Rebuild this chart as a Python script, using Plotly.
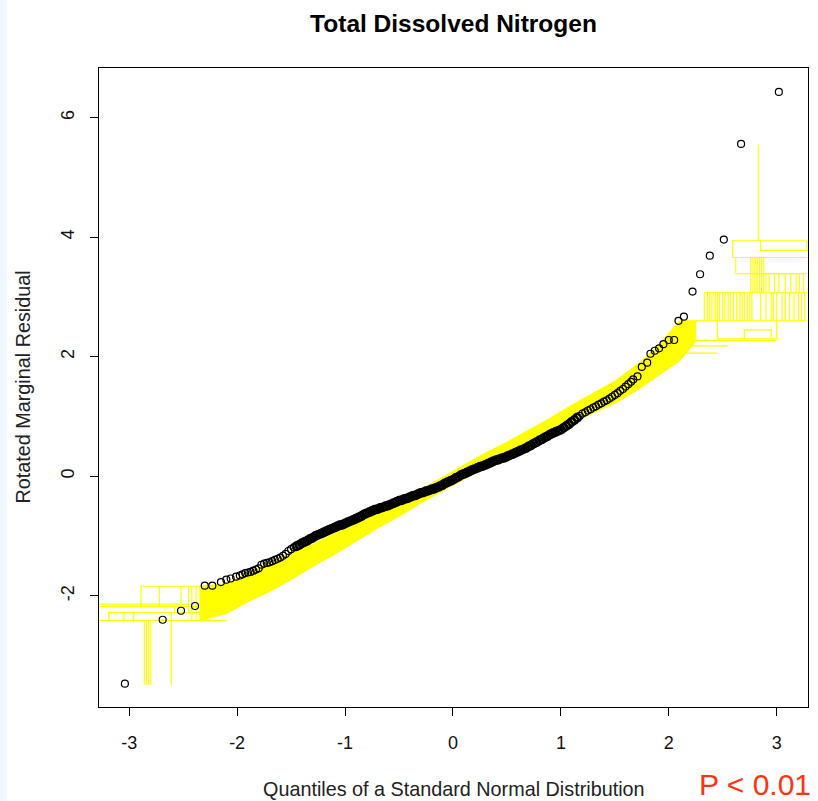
import plotly.graph_objects as go

# ---- observed Q-Q points (theoretical quantile, rotated marginal residual) ----
qx_lower = [-3.04, -2.69, -2.52, -2.39, -2.30, -2.23, -2.15, -2.10, -2.06, -2.01]
qy_lower = [-3.47, -2.40, -2.25, -2.17, -1.83, -1.83, -1.77, -1.73, -1.71, -1.68]

qx_mid = [-1.975, -1.950, -1.925, -1.900, -1.875, -1.850, -1.825, -1.800, -1.775, -1.750,
          -1.725, -1.700, -1.675, -1.650, -1.625, -1.600, -1.575, -1.550, -1.525, -1.500,
          -1.475, -1.450, -1.425, -1.400, -1.375, -1.350, -1.325, -1.300, -1.275, -1.250,
          -1.225, -1.200, -1.175, -1.150, -1.125, -1.100, -1.075, -1.050, -1.025, -1.000,
          -0.975, -0.950, -0.925, -0.900, -0.875, -0.850, -0.825, -0.800, -0.775, -0.750,
          -0.725, -0.700, -0.675, -0.650, -0.625, -0.600, -0.575, -0.550, -0.525, -0.500,
          -0.475, -0.450, -0.425, -0.400, -0.375, -0.350, -0.325, -0.300, -0.275, -0.250,
          -0.225, -0.200, -0.175, -0.150, -0.125, -0.100, -0.075, -0.050, -0.025, 0.000,
          0.025, 0.050, 0.075, 0.100, 0.125, 0.150, 0.175, 0.200, 0.225, 0.250,
          0.275, 0.300, 0.325, 0.350, 0.375, 0.400, 0.425, 0.450, 0.475, 0.500,
          0.525, 0.550, 0.575, 0.600, 0.625, 0.650, 0.675, 0.700, 0.725, 0.750,
          0.775, 0.800, 0.825, 0.850, 0.875, 0.900, 0.925, 0.950, 0.975, 1.000,
          1.025, 1.050, 1.075, 1.100, 1.125, 1.150, 1.175, 1.200, 1.225, 1.250,
          1.275, 1.300, 1.325, 1.350, 1.375, 1.400, 1.425, 1.450, 1.475, 1.500,
          1.525, 1.550, 1.575, 1.600, 1.625, 1.650]
qy_mid = [-1.66, -1.64, -1.62, -1.61, -1.60, -1.58, -1.56, -1.54, -1.48, -1.46,
          -1.45, -1.44, -1.42, -1.40, -1.38, -1.36, -1.33, -1.30, -1.25, -1.22,
          -1.19, -1.17, -1.15, -1.12, -1.10, -1.08, -1.05, -1.03, -1.00, -0.98,
          -0.96, -0.94, -0.92, -0.90, -0.88, -0.86, -0.84, -0.82, -0.81, -0.79,
          -0.77, -0.75, -0.73, -0.71, -0.69, -0.67, -0.64, -0.62, -0.60, -0.58,
          -0.56, -0.55, -0.53, -0.52, -0.50, -0.49, -0.47, -0.45, -0.43, -0.41,
          -0.40, -0.38, -0.37, -0.35, -0.33, -0.32, -0.30, -0.28, -0.27, -0.25,
          -0.24, -0.22, -0.21, -0.19, -0.17, -0.15, -0.12, -0.10, -0.08, -0.06,
          -0.03, -0.01, 0.02, 0.04, 0.06, 0.08, 0.10, 0.12, 0.14, 0.16,
          0.17, 0.19, 0.21, 0.23, 0.25, 0.27, 0.28, 0.30, 0.31, 0.33,
          0.35, 0.37, 0.39, 0.41, 0.43, 0.45, 0.47, 0.50, 0.52, 0.55,
          0.57, 0.60, 0.62, 0.65, 0.67, 0.70, 0.72, 0.74, 0.76, 0.78,
          0.81, 0.84, 0.87, 0.91, 0.94, 0.98, 1.01, 1.05, 1.07, 1.10,
          1.12, 1.15, 1.17, 1.20, 1.22, 1.25, 1.27, 1.30, 1.33, 1.36,
          1.39, 1.43, 1.46, 1.50, 1.54, 1.58]

qx_upper = [1.67, 1.71, 1.75, 1.80, 1.83, 1.87, 1.91, 1.95, 2.00, 2.05,
            2.09, 2.14, 2.22, 2.29, 2.38, 2.51, 2.67, 3.02]
qy_upper = [1.62, 1.67, 1.83, 1.90, 2.05, 2.10, 2.14, 2.21, 2.28, 2.28,
            2.60, 2.67, 3.09, 3.38, 3.69, 3.96, 5.56, 6.43]

# ---- simulated envelope: dense central band (lower / upper edge) ----
band_x = [-2.35, -2.10, -1.90, -1.70, -1.50, -1.30, -1.10, -0.90, -0.70, -0.50, -0.30, -0.10,
          0.10, 0.30, 0.50, 0.70, 0.90, 1.10, 1.30, 1.50, 1.70, 1.90, 2.10, 2.25]
band_lower = [-2.41, -2.30, -2.10, -1.93, -1.73, -1.51, -1.31, -1.09, -0.87, -0.67, -0.45, -0.25,
              -0.05, 0.15, 0.34, 0.52, 0.70, 0.89, 1.06, 1.22, 1.43, 1.68, 1.93, 2.25]
band_upper = [-1.84, -1.80, -1.63, -1.43, -1.29, -1.14, -0.96, -0.79, -0.60, -0.42, -0.22, -0.02,
              0.18, 0.39, 0.57, 0.77, 0.97, 1.19, 1.39, 1.59, 1.86, 2.18, 2.60, 2.60]

# ---- simulated envelope: step-line pieces in the tails (None separates pieces) ----
tail_x = [-2.86, -2.86, None, -2.84, -2.84, None, -2.82, -2.82, None, -2.80, -2.80, None,
          -2.61, -2.61, None, -3.28, -2.10, None, -3.19, -3.19, -2.30, None, -2.61, -2.61, None,
          -3.28, -1.98, None, -3.28, -2.45, None, -2.89, -2.89, -1.98, None,
          -2.72, -2.72, None, -2.52, -2.52, None, -2.45, -2.45, None, -2.38, -2.38, None,
          -3.05, -3.05, None, -2.96, -2.96, None, -2.42, -2.42, None, -2.58, -2.58, None,
          2.83, 2.83, 3.28, None, 2.85, 2.85, 3.28, 3.28, None,
          2.59, 2.59, 2.83, None, 2.59, 3.28, None, 2.62, 2.62, 3.28, None,
          2.76, 2.76, None, 2.78, 2.78, None, 2.80, 2.80, None, 2.82, 2.82, None,
          2.84, 2.84, None, 2.86, 2.86, None, 2.88, 2.88, None, 2.90, 2.90, None,
          2.93, 2.93, None, 2.98, 2.98, None, 3.02, 3.02, None, 3.08, 3.08, None,
          3.13, 3.13, None, 3.18, 3.18, None, 3.21, 3.21, None, 3.25, 3.25, None,
          2.33, 2.33, 3.28, None, 2.24, 2.24, 3.28, None,
          2.36, 2.36, None, 2.38, 2.38, None, 2.40, 2.40, None, 2.43, 2.43, None,
          2.45, 2.45, None, 2.47, 2.47, None, 2.50, 2.50, None, 2.52, 2.52, None,
          2.55, 2.55, None, 2.57, 2.57, None, 2.60, 2.60, None, 2.63, 2.63, None,
          2.66, 2.66, None, 2.68, 2.68, None, 2.70, 2.70, None, 2.73, 2.73, None,
          2.75, 2.75, None, 2.77, 2.77, None, 2.85, 2.85, None, 2.90, 2.90, None,
          2.95, 2.95, None, 2.97, 2.97, None, 3.00, 3.00, None, 3.05, 3.05, None,
          3.08, 3.08, None, 3.12, 3.12, None, 3.16, 3.16, None, 3.20, 3.20, None,
          3.23, 3.23, None, 3.26, 3.26, None,
          2.45, 2.45, 3.00, 3.00, None, 2.05, 2.55, None, 2.00, 2.45, None,
          2.10, 3.00, None, 2.70, 2.70, 2.95, 2.95]
tail_y = [-3.49, -2.41, None, -3.49, -2.41, None, -3.49, -2.41, None, -3.49, -2.41, None,
          -3.49, -2.41, None, -2.41, -2.41, None, -2.41, -2.28, -2.28, None, -2.41, -2.28, None,
          -2.18, -2.18, None, -2.14, -2.14, None, -2.18, -1.84, -1.84, None,
          -2.18, -1.84, None, -2.18, -1.84, None, -2.28, -1.84, None, -2.41, -1.84, None,
          -2.41, -2.28, None, -2.41, -2.28, None, -2.41, -1.84, None, -2.28, -2.18, None,
          5.55, 3.94, 3.94, None, 3.94, 3.78, 3.78, 3.94, None,
          3.66, 3.94, 3.94, None, 3.66, 3.66, None, 3.66, 3.39, 3.39, None,
          3.07, 3.66, None, 3.07, 3.66, None, 3.07, 3.66, None, 3.07, 3.66, None,
          3.07, 3.66, None, 3.07, 3.66, None, 3.07, 3.66, None, 3.07, 3.39, None,
          3.07, 3.39, None, 3.07, 3.39, None, 3.07, 3.39, None, 3.07, 3.39, None,
          3.07, 3.39, None, 3.07, 3.39, None, 3.07, 3.39, None, 3.07, 3.39, None,
          2.60, 3.07, 3.07, None, 2.30, 2.60, 2.60, None,
          2.60, 3.07, None, 2.60, 3.07, None, 2.60, 3.07, None, 2.60, 3.07, None,
          2.60, 3.07, None, 2.60, 3.07, None, 2.60, 3.07, None, 2.60, 3.07, None,
          2.60, 3.07, None, 2.60, 3.07, None, 2.60, 3.07, None, 2.60, 3.07, None,
          2.60, 3.07, None, 2.60, 3.07, None, 2.60, 3.07, None, 2.60, 3.07, None,
          2.60, 3.07, None, 2.60, 3.07, None, 2.60, 3.07, None, 2.60, 3.07, None,
          2.60, 3.07, None, 2.60, 3.07, None, 2.60, 3.07, None, 2.60, 3.07, None,
          2.60, 3.07, None, 2.60, 3.07, None, 2.60, 3.07, None, 2.60, 3.07, None,
          2.60, 3.07, None, 2.60, 3.07, None,
          2.60, 2.30, 2.30, 2.60, None, 2.18, 2.18, None, 2.06, 2.06, None,
          2.27, 2.27, None, 2.30, 2.45, 2.45, 2.30]

x_ticks = [-3, -2, -1, 0, 1, 2, 3]
y_ticks = [-2, 0, 2, 4, 6]

title_text = "Total Dissolved Nitrogen"
x_title = "Quantiles of a Standard Normal Distribution"
y_title = "Rotated Marginal Residual"
p_text = "P < 0.01"

YELLOW = "#FFFF00"
FONT = "Liberation Sans, Arial, sans-serif"

fig = go.Figure()

# envelope band
fig.add_trace(go.Scatter(
    x=band_x + band_x[::-1], y=band_lower + band_upper[::-1],
    mode="lines", fill="toself", fillcolor=YELLOW,
    line=dict(color=YELLOW, width=1), hoverinfo="skip", showlegend=False))

# envelope tail step pieces
fig.add_trace(go.Scatter(
    x=tail_x, y=tail_y, mode="lines", connectgaps=False,
    line=dict(color=YELLOW, width=1.2), hoverinfo="skip", showlegend=False))

# observed points: the dense centre (where rings overlap into a solid band) and the sparser ends
px = qx_lower + qx_mid + qx_upper
py = qy_lower + qy_mid + qy_upper
dense = [(-1.45 <= a <= 1.15) for a in px]
fig.add_trace(go.Scatter(
    x=[a for a, d in zip(px, dense) if not d], y=[b for b, d in zip(py, dense) if not d],
    mode="markers",
    marker=dict(symbol="circle-open", size=7, color="black", line=dict(width=1.2, color="black")),
    showlegend=False))
fig.add_trace(go.Scatter(
    x=[a for a, d in zip(px, dense) if d], y=[b for b, d in zip(py, dense) if d],
    mode="markers",
    marker=dict(symbol="circle-open", size=7.5, color="black", line=dict(width=2.4, color="black")),
    showlegend=False))

axis_common = dict(
    showgrid=False, zeroline=False, showline=True, mirror=True,
    linecolor="black", linewidth=1, ticks="outside", ticklen=8, tickwidth=1,
    tickcolor="black", tickfont=dict(family=FONT, size=18, color="#111111"),
)

fig.update_layout(
    width=818, height=801,
    margin=dict(l=99, r=10, t=68, b=94, pad=0),
    paper_bgcolor="white", plot_bgcolor="white",
    font=dict(family=FONT),
    xaxis=dict(range=[-3.28, 3.29], tickvals=x_ticks, ticktext=[str(v) for v in x_ticks],
               ticklabelstandoff=11, **axis_common),
    yaxis=dict(range=[-3.86, 6.83], tickvals=y_ticks, ticktext=[str(v) for v in y_ticks],
               tickangle=-90, ticklabelstandoff=9, **axis_common),
    title=dict(text=title_text, x=453.5 / 818, xanchor="center", y=1 - 23 / 801, yanchor="middle",
               font=dict(family=FONT, size=24.5, color="black", weight="bold")),
    shapes=[dict(type="rect", xref="paper", yref="paper",
                 x0=-99 / 709, x1=-92 / 709, y0=-94 / 639, y1=1 + 68 / 639,
                 fillcolor="#F0F7FF", line=dict(width=0), layer="below")],
    annotations=[
        dict(text=x_title, xref="paper", yref="paper", x=0.5, y=0, xanchor="center",
             yanchor="middle", yshift=-82, showarrow=False,
             font=dict(family=FONT, size=19.8, color="#222222")),
        dict(text=y_title, xref="paper", yref="paper", x=0, y=0.5, xanchor="center",
             yanchor="middle", xshift=-77, textangle=-90, showarrow=False,
             font=dict(family=FONT, size=19.8, color="#222222")),
        dict(text=p_text, xref="paper", yref="paper", x=1, y=0, xanchor="right",
             yanchor="middle", xshift=5, yshift=-77, showarrow=False,
             font=dict(family=FONT, size=30, color="#FF3311")),
    ],
)

fig.write_html("out.html")
